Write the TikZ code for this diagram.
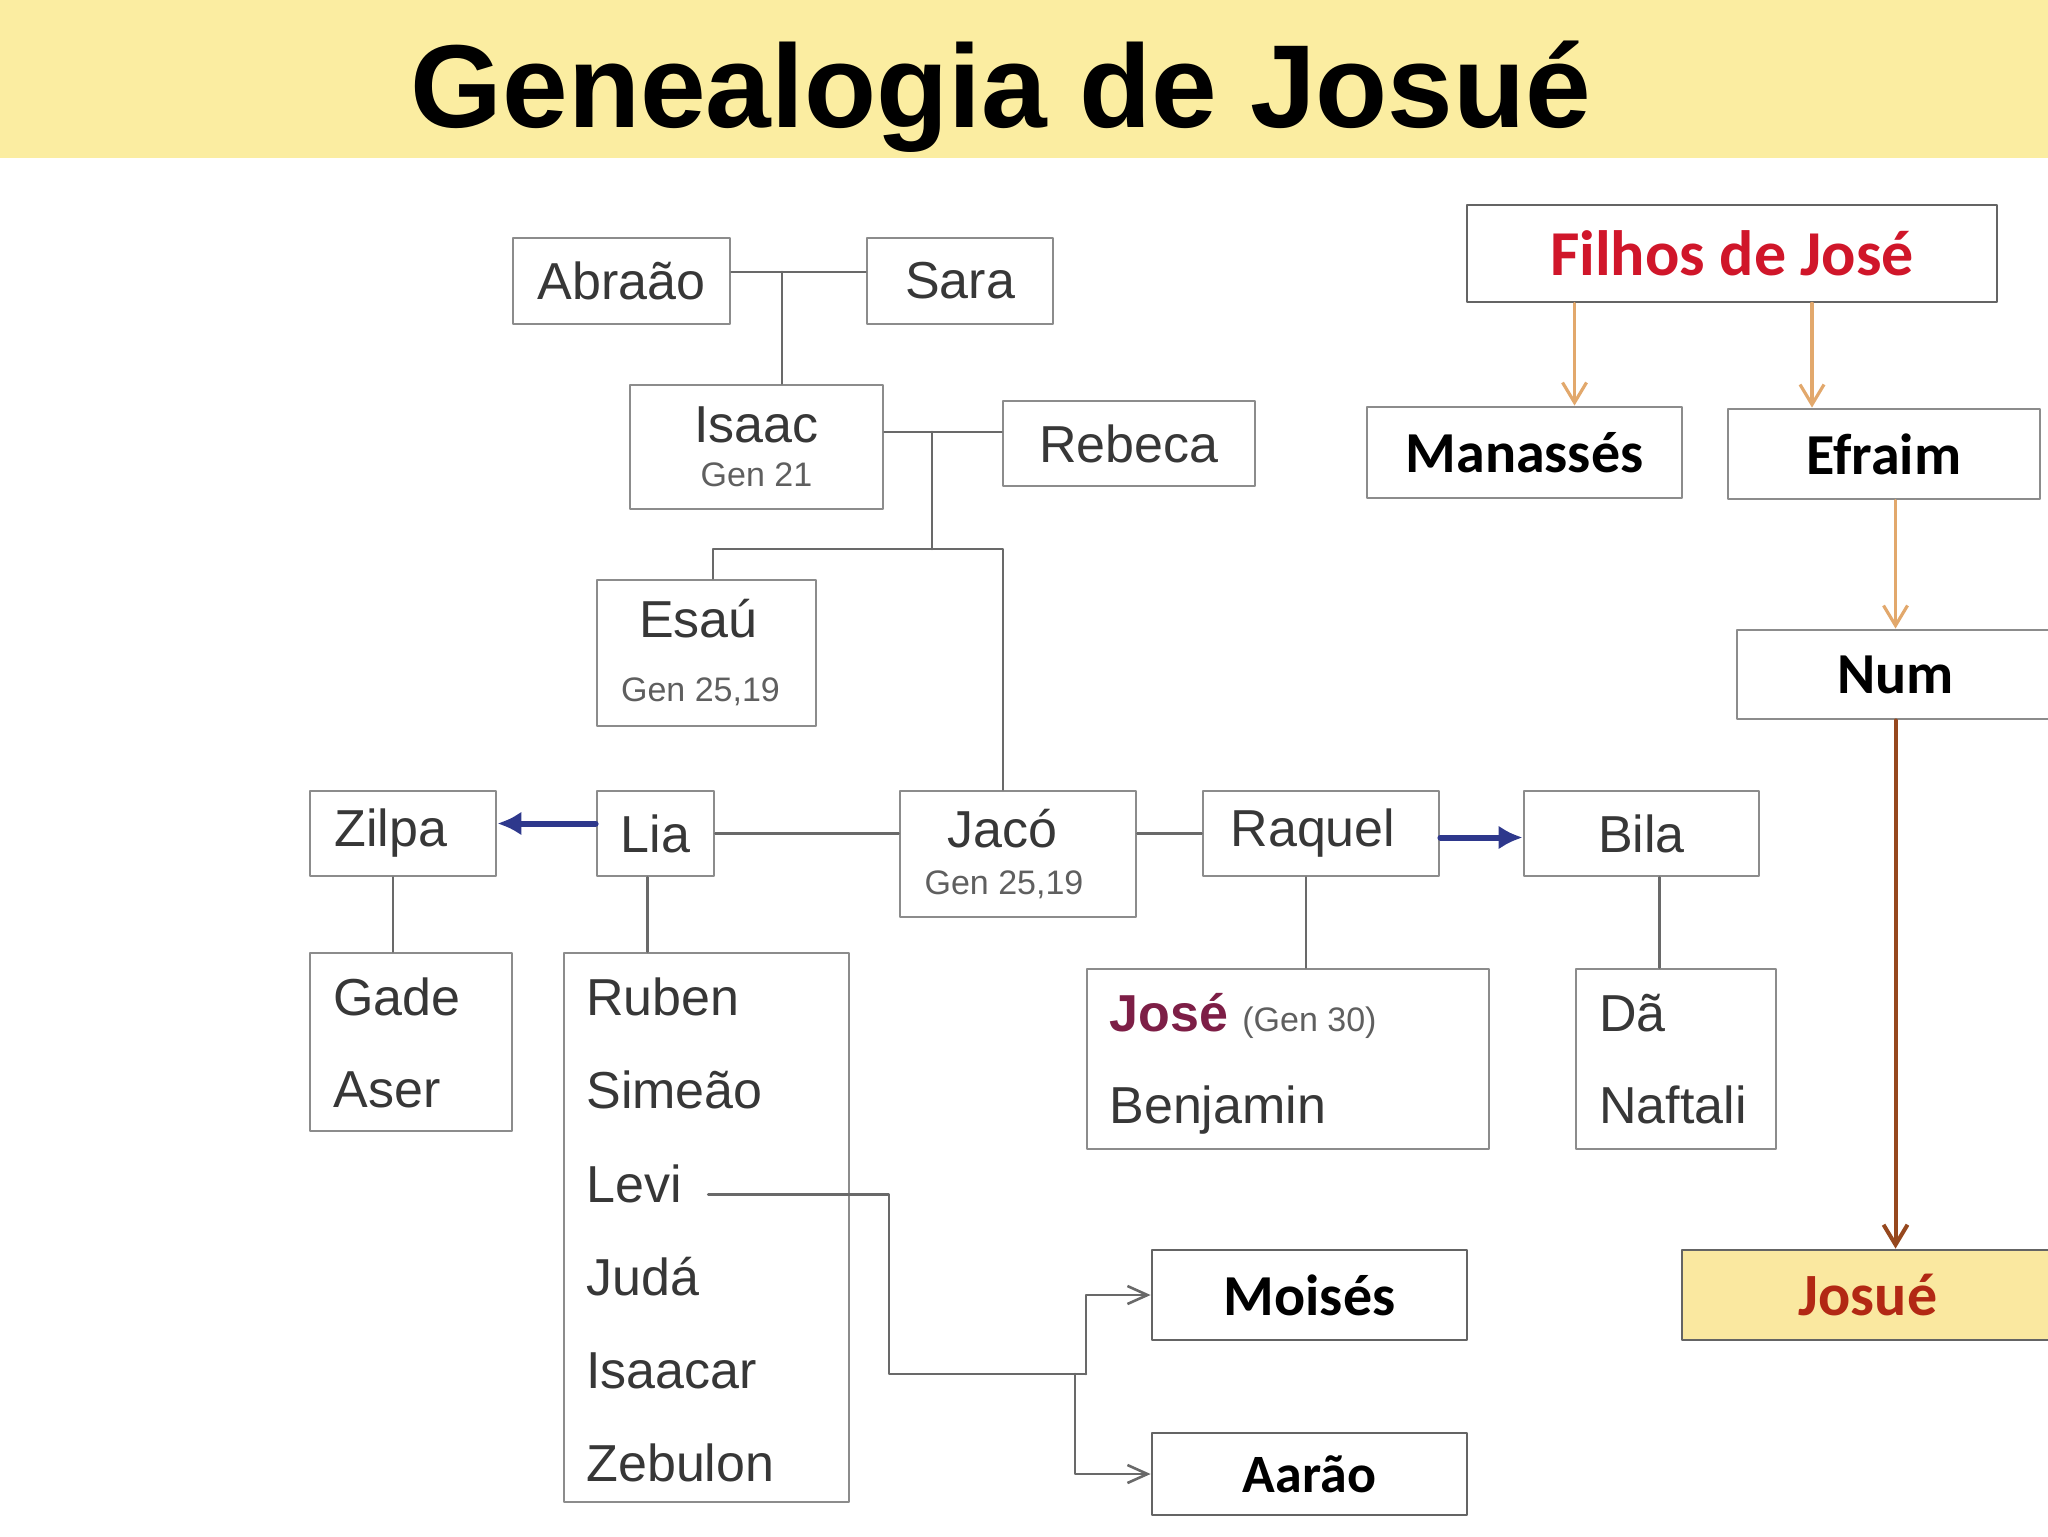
\documentclass[tikz,border=0pt]{standalone}
\usepackage{fontspec}
\setmainfont{Liberation Sans}
\newfontfamily\calibri{Carlito}
\usetikzlibrary{arrows.meta}

\definecolor{faixa}{RGB}{251,237,161}
\definecolor{borda}{RGB}{140,140,140}
\definecolor{bordaD}{RGB}{100,100,100}
\definecolor{nomec}{RGB}{55,55,55}
\definecolor{genc}{RGB}{95,95,95}
\definecolor{linhac}{RGB}{105,105,105}
\definecolor{azul}{RGB}{46,56,140}
\definecolor{laranja}{RGB}{226,168,108}
\definecolor{marrom}{RGB}{150,72,30}
\definecolor{vermelho}{RGB}{208,22,42}
\definecolor{josuec}{RGB}{178,40,20}
\definecolor{josec}{RGB}{125,30,70}
\definecolor{fundoJosue}{RGB}{250,232,160}

\newcommand{\genref}{\fontsize{17}{17}\selectfont\color{genc}}

\begin{document}
\begin{tikzpicture}[x=0.5pt, y=-0.5pt, line cap=round, line join=round,
  caixa/.style={draw=borda, line width=1.4pt, fill=white, inner sep=0pt,
    font=\fontsize{26}{26}\selectfont, text=nomec, align=center},
  lista/.style={anchor=west, inner sep=0pt, text height=18.6pt, text depth=0pt,
    font=\fontsize{26}{26}\selectfont, text=nomec},
  caixaD/.style={draw=bordaD, line width=1.4pt, fill=white, inner sep=0pt,
    font=\calibri\bfseries\fontsize{29}{29}\selectfont, text=black},
  linha/.style={draw=linhac, line width=1.3pt},
  setaAzul/.style={draw=azul, line width=3pt, -{Latex[length=12pt,width=12pt]}},
  setaCinza/.style={linha, -{Straight Barb[length=10pt,width=9pt]}},
  setaLaranja/.style={draw=laranja, line width=1.6pt, -{Straight Barb[length=10pt,width=12pt]}},
  setaMarrom/.style={draw=marrom, line width=2pt, -{Straight Barb[length=10pt,width=12pt]}}]

  %% ════ 标题带 ════
  \fill[faixa] (0,0) rectangle (2048,158);
  \node[anchor=base, inner sep=0pt, font=\bfseries\fontsize{59}{59}\selectfont] (titulo) at (1001,127) {Genealogia de Josué};

  %% ════ 左边的家谱 ════
  \node[caixa, minimum width=108.5pt, minimum height=43pt] (abraao) at (621.5,281) {Abraão};
  \node[caixa, minimum width=93pt, minimum height=43pt] (sara) at (960,281) {Sara};
  \node[caixa, minimum width=126.5pt, minimum height=62pt] (isaac) at (756.5,447) {Isaac\\[-4pt]{\genref Gen 21}};
  \node[caixa, minimum width=126pt, minimum height=42.5pt] (rebeca) at (1129,443.5) {Rebeca};
  \node[caixa, minimum width=109.5pt, minimum height=73pt] (esau) at (706.5,653) {Esaú\hspace*{8pt}\\[6pt]{\genref Gen 25,19}\hspace*{6pt}};
  \node[caixa, minimum width=93pt, minimum height=42.5pt] (zilpa) at (403,833.5) {Zilpa\hspace*{12pt}};
  \node[caixa, minimum width=58.5pt, minimum height=42.5pt] (lia) at (655.5,833.5) {Lia};
  \node[caixa, minimum width=118pt, minimum height=63pt] (jaco) at (1018,854) {Jacó\hspace*{16pt}\\[-2.5pt]{\genref Gen 25,19}\hspace*{14pt}};
  \node[caixa, minimum width=118pt, minimum height=42.5pt] (raquel) at (1321,833.5) {Raquel\hspace*{8pt}};
  \node[caixa, minimum width=117.5pt, minimum height=42.5pt] (bila) at (1641.5,833.5) {Bila};

  % 孩子们的框
  \node[caixa, minimum width=101pt, minimum height=89pt] (filhosZilpa) at (411,1042) {};
  \node[caixa, minimum width=142.5pt, minimum height=274.5pt] (filhosLia) at (706.5,1227.5) {};
  \node[caixa, minimum width=201pt, minimum height=90pt] (filhosRaquel) at (1288,1059) {};
  \node[caixa, minimum width=100pt, minimum height=90pt] (filhosBila) at (1676,1059) {};

  \node[lista] (gade) at (333,997) {Gade};
  \node[lista] (aser) at (333,1089) {Aser};
  \foreach \nome/\id [count=\i] in {Ruben/ruben, Simeão/simeao, Levi/levi, Judá/juda, Isaacar/isaacar, Zebulon/zebulon}
    \node[lista] (\id) at (586,{997+(\i-1)*93.2}) {\nome};
  \node[lista] (jose) at (1109,1013) {{\bfseries\color{josec}José} {\genref(Gen 30)}};
  \node[lista] (benjamin) at (1109,1105) {Benjamin};
  \node[lista] (da) at (1599,1013) {Dã};
  \node[lista] (naftali) at (1599,1105) {Naftali};

  \node[caixaD, minimum width=157.5pt, minimum height=45pt] (moises) at (1309.5,1295) {Moisés};
  \node[caixaD, minimum width=157.5pt, minimum height=41pt, font=\calibri\bfseries\fontsize{27}{27}\selectfont] (aarao) at (1309.5,1474) {Aarão};

  %% ════ 右边：约瑟的儿子 ════
  \node[caixaD, minimum width=265pt, minimum height=48.5pt, text=vermelho, font=\calibri\bfseries\fontsize{32}{32}\selectfont] (filhosJose) at (1732,253.5) {Filhos de José};
  \node[caixaD, draw=borda, minimum width=157.5pt, minimum height=45.5pt] (manasses) at (1524.5,452.5) {Manassés};
  \node[caixaD, draw=borda, minimum width=156pt, minimum height=45pt] (efraim) at (1884,454) {Efraim};
  \node[caixaD, draw=borda, minimum width=158.5pt, minimum height=44.5pt] (num) at (1895.5,674.5) {Num};
  \node[caixaD, fill=fundoJosue, text=josuec, font=\calibri\bfseries\fontsize{30}{30}\selectfont, minimum width=186pt, minimum height=45pt] (josue) at (1868,1295) {Josué};

  %% ════ 连线 ════
  \coordinate (uniao1) at (782,272);
  \coordinate (uniao2) at (932,432);
  \coordinate (ramoEsau) at (713,549);
  \coordinate (ramoJaco) at (1003,549);
  \draw[linha] (abraao.east |- uniao1) -- (sara.west |- uniao1);
  \draw[linha] (uniao1) -- (uniao1 |- isaac.north);
  \draw[linha] (isaac.east |- uniao2) -- (rebeca.west |- uniao2);
  \draw[linha] (uniao2) -- (uniao2 |- ramoEsau);
  \draw[linha] (ramoEsau |- esau.north) -- (ramoEsau) -- (ramoJaco) -- (ramoJaco |- jaco.north);
  \draw[linha] (lia.east) -- (lia.east -| jaco.west);
  \draw[linha] (jaco.east |- raquel.west) -- (raquel.west);
  \draw[setaAzul] ([yshift=5pt]lia.west) -- ([yshift=5pt]zilpa.east);
  \draw[setaAzul] ([yshift=-2pt]raquel.east) -- ([yshift=-2pt]bila.west);

  \draw[linha] ([xshift=-5pt]zilpa.south) -- ([xshift=-5pt]zilpa.south |- filhosZilpa.north);
  \draw[linha] ([xshift=-4pt]lia.south) -- ([xshift=-4pt]lia.south |- filhosLia.north);
  \draw[linha] ([xshift=-7.5pt]raquel.south) -- ([xshift=-7.5pt]raquel.south |- filhosRaquel.north);
  \draw[linha] ([xshift=9pt]bila.south) -- ([xshift=9pt]bila.south |- filhosBila.north);

  % 利未 -> 摩西, 亚伦
  \coordinate (saidaLevi) at ([xshift=13pt,yshift=-5.5pt]levi.east);
  \coordinate (dobraLevi) at (889,1374);
  \coordinate (bifurca) at (1086,1374);
  \coordinate (bifurca2) at (1075,1374);
  \draw[linha] (saidaLevi) -| (dobraLevi) -- (bifurca);
  \draw[setaCinza] (bifurca) |- (moises.west);
  \draw[setaCinza] (bifurca2) |- (aarao.west);

  % 橙色箭头
  \coordinate (mTopo) at ([xshift=25pt]manasses.north);
  \coordinate (eTopo) at ([xshift=-36pt]efraim.north);
  \draw[setaLaranja] (mTopo |- filhosJose.south) -- (mTopo);
  \draw[setaLaranja] (eTopo |- filhosJose.south) -- (eTopo);
  \draw[setaLaranja] (num.north |- efraim.south) -- (num.north);
  \draw[setaMarrom] (num.south) -- (num.south |- josue.north);

  % 钉死画布
  \pgfresetboundingbox
  \path[use as bounding box] (0,0) rectangle (2048,1536);
\end{tikzpicture}
\end{document}
